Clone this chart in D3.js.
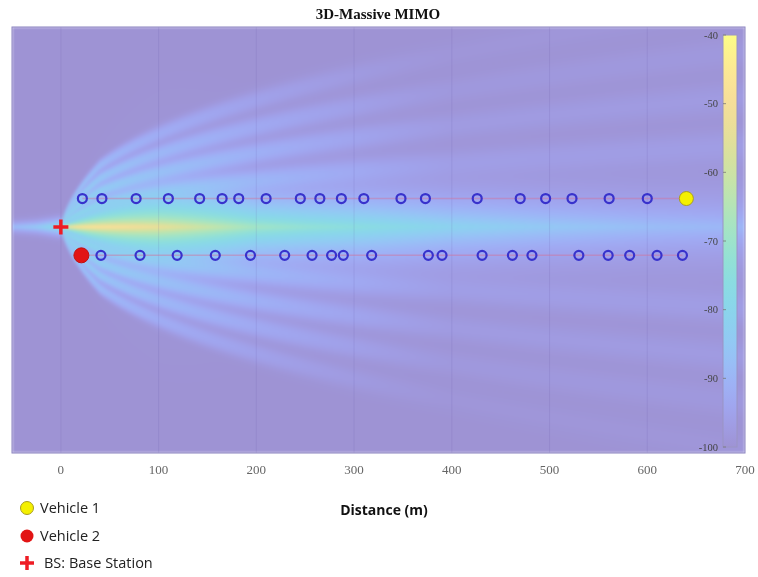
<!DOCTYPE html>
<html>
<head>
<meta charset="utf-8">
<script src="https://cdn.jsdelivr.net/npm/d3@7"></script>
<style>
  body { margin: 0; background: #fff; }
  #root { position: relative; width: 758px; height: 577px; }
  #root canvas, #root svg { position: absolute; left: 0; top: 0; }
</style>
</head>
<body>
<div id="root"></div>
<script>
"use strict";

// ---- data ----
const xTicks = [0, 100, 200, 300, 400, 500, 600, 700];
const cbTicks = [-40, -50, -60, -70, -80, -90, -100];

// lane offsets (m) from the base station
const lane1Y = 5;
const lane2Y = -5;
// other vehicles on each lane, distance (m)
const lane1Cars = [22, 42, 77, 110, 142, 165, 182, 210, 245, 265, 287, 310, 348, 373, 426, 470, 496, 523, 561, 600];
const lane2Cars = [41, 81, 119, 158, 194, 229, 257, 277, 289, 318, 376, 390, 431, 462, 482, 530, 560, 582, 610, 636];
const vehicle1 = { x: 640, y: lane1Y };
const vehicle2 = { x: 21, y: lane2Y };
const baseStation = { x: 0, y: 0 };

// received power along the main beam (dBm)
const beamDist = [0, 25, 50, 100, 150, 200, 250, 300, 400, 500, 600, 700];
const beamLevel = [-40, -43, -46, -52, -60, -68, -72, -75, -81, -85, -88, -90];
// side lobes: normalised offset, extra drop (dB)
const lobeAt = [0.75, 1.2, 1.62, 2.05];
const lobeDrop = [0, 1, 3, 6];
const sideDist = [0, 50, 100, 200, 300, 400];
const sideLevel = [-78, -84, -87, -91, -95, -100];
// back lobe toward negative distance
const backDist = [-50, -25, 0];
const backLevel = [-88, -84, -76];

// ---- layout ----
const W = 758, H = 577;
const plot = { left: 12, right: 745, top: 27, bottom: 453 };

const x = d3.scaleLinear().domain([-50, 700]).range([plot.left, plot.right]);
const y = d3.scaleLinear().domain([-39.8, 35.2]).range([plot.bottom, plot.top]);

// parula blended half-way with white
const parulaSoft = ["#9e93d4", "#a3a9fa", "#93cbf5", "#83dae8", "#9be4cb",
    "#c0e5ac", "#e6de94", "#fedc9e", "#fcfd86"];
const color = d3.scaleSequential(d3.interpolateRgbBasis(parulaSoft)).domain([-100, -40]);

const beam = d3.scaleLinear().domain(beamDist).range(beamLevel).clamp(true);
const side = d3.scaleLinear().domain(sideDist).range(sideLevel).clamp(true);
const back = d3.scaleLinear().domain(backDist).range(backLevel).clamp(true);

// lateral spread of the side lobes with distance
function spread (xm) {
    return xm >= 40 ? Math.pow(xm, 0.45) : Math.pow(Math.max(xm, 0.5), 0.65) * Math.pow(40, -0.2);
}

function field (xm, ym) {
    let p = Math.pow(10, -100 / 10);
    if (xm < 0) {
        const v = back(xm) - 12 * Math.abs(ym);
        p += Math.pow(10, v / 10);
    } else {
        // main beam, falls off with angle
        const main = beam(xm) - 50 * Math.log10(1 + 70 * Math.abs(ym) / (xm + 2));
        p += Math.pow(10, main / 10);
        // side lobes
        const u = Math.abs(ym) / spread(xm);
        const sl = side(xm);
        lobeAt.forEach((c, i) => {
            const d = (u - c) / 0.16;
            const v = sl - lobeDrop[i] - 6 * d * d;
            p += Math.pow(10, v / 10);
        });
    }
    return Math.max(-100, 10 * Math.log10(p));
}

const root = d3.select("#root");

// heat map on canvas
const canvas = root.append("canvas").attr("width", W).attr("height", H).node();
const ctx = canvas.getContext("2d");
const pw = plot.right - plot.left, ph = plot.bottom - plot.top;
const img = ctx.createImageData(pw, ph);
for (let j = 0; j < ph; j++) {
    const ym = y.invert(plot.top + j + 0.5);
    for (let i = 0; i < pw; i++) {
        const xm = x.invert(plot.left + i + 0.5);
        const c = d3.rgb(color(field(xm, ym)));
        const k = (j * pw + i) * 4;
        img.data[k] = c.r; img.data[k + 1] = c.g; img.data[k + 2] = c.b; img.data[k + 3] = 255;
    }
}
const off = document.createElement("canvas");
off.width = pw; off.height = ph;
off.getContext("2d").putImageData(img, 0, 0);
ctx.save();
ctx.beginPath();
ctx.rect(plot.left, plot.top, pw, ph);
ctx.clip();
ctx.filter = "blur(1.5px)";
ctx.drawImage(off, plot.left, plot.top);
ctx.restore();

const svg = root.append("svg").attr("width", W).attr("height", H);

// grid lines
svg.append("g")
    .selectAll("line")
    .data(xTicks.filter(t => t < 700))
    .enter().append("line")
    .attr("x1", d => x(d)).attr("x2", d => x(d))
    .attr("y1", plot.top).attr("y2", plot.bottom)
    .attr("stroke", "#5a4a9a").attr("stroke-opacity", 0.12).attr("stroke-width", 1);

// plot frame
svg.append("rect")
    .attr("x", plot.left).attr("y", plot.top)
    .attr("width", pw).attr("height", ph)
    .attr("fill", "none").attr("stroke", "#8a82c0").attr("stroke-width", 1);

// x axis labels
svg.append("g")
    .selectAll("text")
    .data(xTicks)
    .enter().append("text")
    .attr("x", d => x(d)).attr("y", 474)
    .attr("text-anchor", "middle")
    .style("font", "13px 'Liberation Serif', serif")
    .attr("fill", "#666")
    .text(d => d);

// lanes
const lanes = [
    { y: lane1Y, from: lane1Cars[0], to: vehicle1.x },
    { y: lane2Y, from: vehicle2.x, to: lane2Cars[lane2Cars.length - 1] }
];
svg.append("g")
    .selectAll("line")
    .data(lanes)
    .enter().append("line")
    .attr("x1", d => x(d.from)).attr("x2", d => x(d.to))
    .attr("y1", d => y(d.y)).attr("y2", d => y(d.y))
    .attr("stroke", "#d2709a").attr("stroke-opacity", 0.45).attr("stroke-width", 1.5);

const cars = lane1Cars.map(d => ({ x: d, y: lane1Y }))
    .concat(lane2Cars.map(d => ({ x: d, y: lane2Y })));
svg.append("g")
    .selectAll("circle")
    .data(cars)
    .enter().append("circle")
    .attr("cx", d => x(d.x)).attr("cy", d => y(d.y))
    .attr("r", 4.5)
    .attr("fill", "none").attr("stroke", "#3832cc").attr("stroke-width", 2.2);

svg.append("circle")
    .attr("cx", x(vehicle1.x)).attr("cy", y(vehicle1.y)).attr("r", 7)
    .attr("fill", "#f4f000").attr("stroke", "#a89c20").attr("stroke-width", 1);
svg.append("circle")
    .attr("cx", x(vehicle2.x)).attr("cy", y(vehicle2.y)).attr("r", 7.5)
    .attr("fill", "#e21414").attr("stroke", "#c01010").attr("stroke-width", 1);

function plus (g, cx, cy, size, width) {
    g.append("path")
        .attr("d", `M${cx - size},${cy}H${cx + size}M${cx},${cy - size}V${cy + size}`)
        .attr("stroke", "#ee1c24").attr("stroke-width", width).attr("fill", "none");
}
plus(svg, x(baseStation.x), y(baseStation.y), 7.5, 3.5);

// colour bar
const cb = { left: 723, width: 14, top: 35, bottom: 447 };
const cbY = d3.scaleLinear().domain([-100, -40]).range([cb.bottom, cb.top]);
const grad = svg.append("defs").append("linearGradient")
    .attr("id", "cbgrad").attr("x1", 0).attr("x2", 0).attr("y1", 1).attr("y2", 0);
grad.selectAll("stop")
    .data(d3.range(0, 1.0001, 0.05))
    .enter().append("stop")
    .attr("offset", d => d)
    .attr("stop-color", d => color(-100 + d * 60));
svg.append("rect")
    .attr("x", cb.left).attr("y", cb.top)
    .attr("width", cb.width).attr("height", cb.bottom - cb.top)
    .attr("fill", "url(#cbgrad)").attr("stroke", "#9a94c4").attr("stroke-width", 1);
const cbg = svg.append("g");
cbg.selectAll("line")
    .data(cbTicks)
    .enter().append("line")
    .attr("x1", cb.left).attr("x2", cb.left + 3)
    .attr("y1", d => cbY(d)).attr("y2", d => cbY(d))
    .attr("stroke", "#777").attr("stroke-width", 0.8);
cbg.selectAll("text")
    .data(cbTicks)
    .enter().append("text")
    .attr("x", cb.left - 5).attr("y", d => cbY(d) + 3.5)
    .attr("text-anchor", "end")
    .style("font", "10.5px 'Liberation Serif', serif")
    .attr("fill", "#444")
    .text(d => d);

// title and axis title
svg.append("text")
    .attr("x", 378).attr("y", 19)
    .attr("text-anchor", "middle")
    .style("font", "bold 15px 'Liberation Serif', serif")
    .attr("fill", "#111")
    .text("3D-Massive MIMO");
svg.append("text")
    .attr("x", 384).attr("y", 515)
    .attr("text-anchor", "middle")
    .style("font", "bold 14px 'Open Sans', sans-serif")
    .attr("fill", "#111")
    .text("Distance (m)");

// legend
const legend = svg.append("g").style("font", "14.5px 'Open Sans', sans-serif").attr("fill", "#222");
legend.append("circle").attr("cx", 27).attr("cy", 508).attr("r", 6.5)
    .attr("fill", "#f4f000").attr("stroke", "#a89c20");
legend.append("text").attr("x", 40).attr("y", 513).text("Vehicle 1");
legend.append("circle").attr("cx", 27).attr("cy", 536).attr("r", 6.5)
    .attr("fill", "#e21414");
legend.append("text").attr("x", 40).attr("y", 541).text("Vehicle 2");
plus(legend, 27, 563, 7, 3.5);
legend.append("text").attr("x", 44).attr("y", 568).text("BS: Base Station");
</script>
</body>
</html>
